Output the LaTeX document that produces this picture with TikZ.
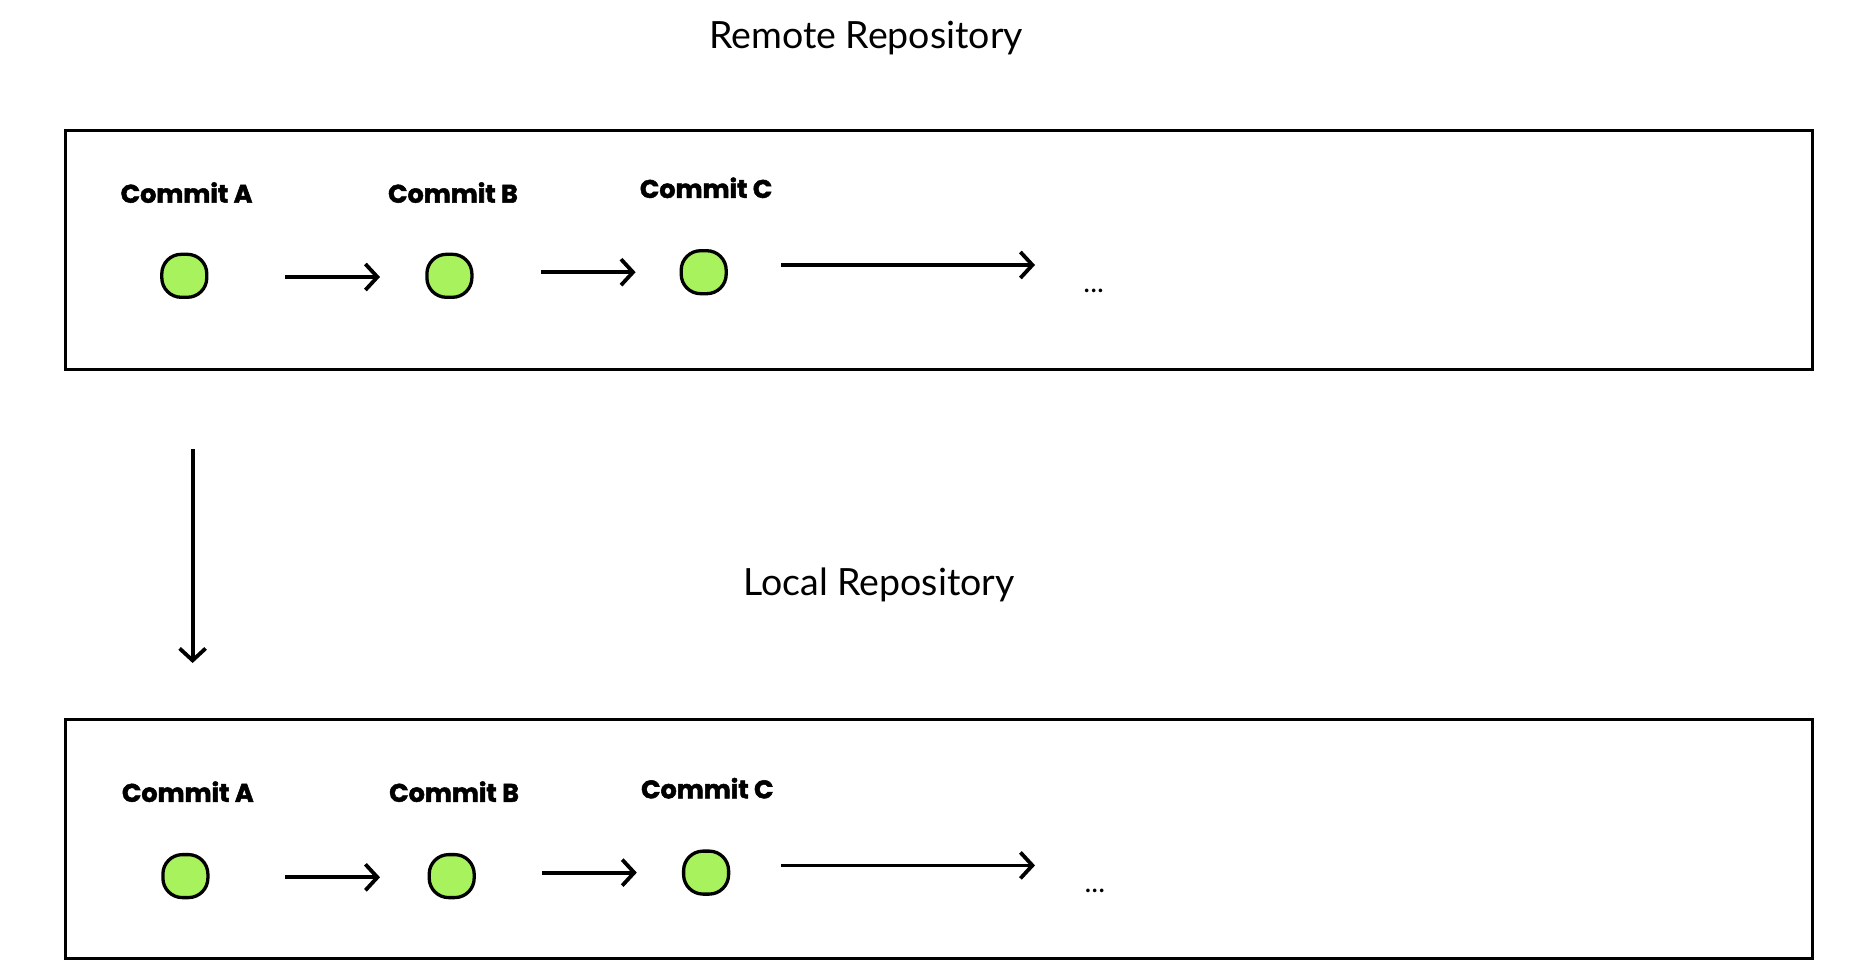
\documentclass[tikz,border=0pt]{standalone}
\usepackage{fontspec}
\setmainfont{Lato}
\newfontfamily\labelfont{Poppins}[BoldFeatures={FakeBold=2}]
\usetikzlibrary{arrows.meta}
\definecolor{commitgreen}{HTML}{A8F25E}
\tikzset{
  repobox/.style={draw=black, line width=3pt},
  commit/.style={draw=black, line width=3.3pt, fill=commitgreen, rectangle, rounded corners=19.5pt,
    minimum width=45pt, minimum height=43pt, inner sep=0pt},
  clabel/.style={font=\labelfont\bfseries\fontsize{25.5}{28}\selectfont, inner sep=0pt},
  title/.style={font=\fontsize{37.5}{42}\selectfont, inner sep=0pt},
  dots/.style={font=\fontsize{29}{32}\selectfont, inner sep=0pt},
  flow/.style={line width=3.8pt, -{Straight Barb[length=12pt,width=26pt,line width=3.8pt]}}
}
\begin{document}
\begin{tikzpicture}[x=1pt,y=-1pt]
\useasboundingbox (0,0) rectangle (1864,978);
% titles
\node[title] (tremote) at (866,38) {Remote Repository};
\node[title] (tlocal) at (879,585) {Local Repository};
% boxes
\draw[repobox] (65.4,130.8) rectangle (1812.9,369.7);
\draw[repobox] (65.4,719.2) rectangle (1812.9,958.2);
% top row
\node[clabel] (lA1) at (186.6,192.6) {Commit A};
\node[clabel] (lB1) at (453,192.6) {Commit B};
\node[clabel] (lC1) at (706.1,187.8) {Commit C};
\node[commit] (cA1) at (184.3,275.8) {};
\node[commit] (cB1) at (449.4,275.8) {};
\node[commit] (cC1) at (703.7,272.2) {};
\node[dots] (d1) at (1093.7,291) {...};
\coordinate (a1s) at (285.3,277);
\coordinate (a1e) at (380,277);
\coordinate (a2s) at (541,272.2);
\coordinate (a2e) at (635.6,272.2);
\coordinate (a3s) at (781,265);
\coordinate (a3e) at (1035,265);
\draw[flow] (a1s) -- (a1e);
\draw[flow] (a2s) -- (a2e);
\draw[flow] (a3s) -- (a3e);
% vertical arrow
\coordinate (vs) at (192.6,449.4);
\coordinate (ve) at (192.6,663);
\draw[flow] (vs) -- (ve);
% bottom row
\node[clabel] (lA2) at (187.8,791.7) {Commit A};
\node[clabel] (lB2) at (454.1,791.7) {Commit B};
\node[clabel] (lC2) at (707.3,788.2) {Commit C};
\node[commit] (cA2) at (185.4,876.1) {};
\node[commit] (cB2) at (451.7,876.1) {};
\node[commit] (cC2) at (706.1,872.6) {};
\node[dots] (d2) at (1094.9,891) {...};
\coordinate (b1s) at (285.3,877.3);
\coordinate (b1e) at (380,877.3);
\coordinate (b2s) at (542,872.6);
\coordinate (b2e) at (636.8,872.6);
\coordinate (b3s) at (781,865.4);
\coordinate (b3e) at (1035,865.4);
\draw[flow] (b1s) -- (b1e);
\draw[flow] (b2s) -- (b2e);
\draw[flow] (b3s) -- (b3e);
\end{tikzpicture}
\end{document}
